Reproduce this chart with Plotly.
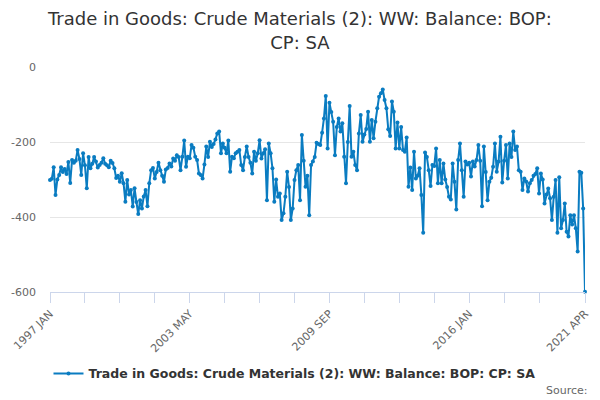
import plotly.graph_objects as go
import pandas as pd

# monthly categories, 1997 JAN .. 2021 APR
months = [d.strftime("%Y %b").upper() for d in pd.date_range("1997-01-01", "2021-04-01", freq="MS")]

# values, one row per year (GBP m)
balance = (
    [-301, -298, -267, -341, -300, -288, -267, -280, -272, -285, -253, -309]    # 1997
    + [-248, -255, -250, -221, -245, -288, -230, -262, -323, -240, -270, -258]  # 1998
    + [-240, -252, -268, -261, -255, -243, -258, -262, -267, -250, -256, -270]  # 1999
    + [-296, -290, -306, -283, -310, -359, -301, -340, -328, -372, -323, -360]  # 2000
    + [-392, -355, -377, -345, -328, -371, -310, -275, -269, -297, -280, -255]  # 2001
    + [-275, -290, -306, -273, -269, -257, -265, -244, -250, -235, -240, -275]  # 2002
    + [-239, -196, -266, -239, -243, -208, -215, -239, -248, -284, -288, -297]  # 2003
    + [-260, -212, -240, -199, -213, -205, -193, -177, -172, -230, -204, -215]  # 2004
    + [-230, -196, -279, -239, -243, -230, -226, -221, -261, -275, -240, -212]  # 2005
    + [-240, -255, -284, -226, -250, -230, -195, -244, -230, -219, -355, -204]  # 2006
    + [-230, -270, -359, -300, -346, -337, -408, -390, -346, -279, -320, -408]  # 2007
    + [-377, -301, -275, -261, -355, -181, -250, -319, -290, -395, -261, -252]  # 2008
    + [-240, -202, -205, -208, -175, -137, -77, -217, -95, -120, -146, -235]    # 2009
    + [-160, -137, -172, -150, -239, -310, -200, -104, -239, -226, -261, -275]  # 2010
    + [-177, -128, -199, -180, -165, -119, -199, -141, -190, -146, -110, -79]   # 2011
    + [-70, -60, -88, -110, -166, -184, -92, -119, -217, -148, -217, -160]      # 2012
    + [-221, -226, -188, -319, -268, -328, -226, -297, -290, -270, -341, -442]  # 2013
    + [-228, -240, -275, -317, -261, -264, -217, -310, -248, -310, -257, -300]  # 2014
    + [-320, -346, -353, -257, -306, -380, -248, -204, -275, -346, -252, -260]  # 2015
    + [-255, -292, -252, -265, -248, -208, -250, -371, -212, -280, -355, -306]  # 2016
    + [-295, -266, -204, -279, -252, -186, -308, -250, -208, -297, -204, -240]  # 2017
    + [-172, -221, -212, -275, -279, -328, -297, -305, -332, -310, -301, -290]  # 2018
    + [-285, -270, -337, -284, -300, -364, -340, -324, -350, -408, -346, -301]  # 2019
    + [-442, -294, -430, -408, -364, -439, -452, -395, -420, -395, -430, -492]  # 2020
    + [-279, -282, -377, -599]                                                  # 2021
)

series_name = "Trade in Goods: Crude Materials (2): WW: Balance: BOP: CP: SA"
tick_idx = list(range(0, 267, 19)) + [len(months) - 1]
label_idx = [0, 76, 152, 228, len(months) - 1]
y_ticks = [0, -200, -400, -600]

pos = list(range(len(months)))

fig = go.Figure()
fig.add_trace(go.Scatter(
    x=pos, y=balance, name=series_name, customdata=months,
    hovertemplate="%{customdata}: %{y}<extra></extra>",
    mode="lines+markers",
    line=dict(color="#0a7cc1", width=2),
    marker=dict(color="#0a7cc1", size=4),
    cliponaxis=False,
))

# the page body adds an 8px margin, so the figure is drawn 8px smaller
fig.update_layout(
    width=592, height=392,
    margin=dict(l=42, r=15, t=59, b=108, autoexpand=False),
    paper_bgcolor="white", plot_bgcolor="white",
    font=dict(family="DejaVu Sans", color="#666666", size=11),
    title=dict(
        text="Trade in Goods: Crude Materials (2): WW: Balance: BOP:<br>CP: SA",
        x=0.493, xanchor="center", yref="container", y=0.956, yanchor="middle",
        font=dict(size=18, color="#333333"),
    ),
    showlegend=True,
    legend=dict(
        orientation="h", x=0.457, xanchor="center",
        y=-0.364, yanchor="middle",
        font=dict(size=12.5, color="#333333", weight="bold"),
    ),
    xaxis=dict(
        range=[0, len(months) - 1], automargin=False,
        tickmode="array",
        tickvals=tick_idx,
        ticktext=[months[i] if i in label_idx else "" for i in tick_idx],
        tickangle=-45, ticks="outside", ticklen=10, tickcolor="#ccd6eb",
        showline=True, linecolor="#ccd6eb", linewidth=1,
        showgrid=False, zeroline=False,
    ),
    yaxis=dict(
        range=[-600, 0], tickmode="array", automargin=False,
        tickvals=y_ticks, ticktext=[str(v) for v in y_ticks],
        showgrid=True, gridcolor="#e6e6e6", zeroline=False,
        ticks="", ticklabelstandoff=13,
    ),
    annotations=[dict(
        text="Source:", xref="paper", yref="paper",
        x=1.009, y=-0.436, xanchor="right", yanchor="middle",
        showarrow=False, font=dict(size=11, color="#666666"),
    )],
)

fig.write_html("out.html")
